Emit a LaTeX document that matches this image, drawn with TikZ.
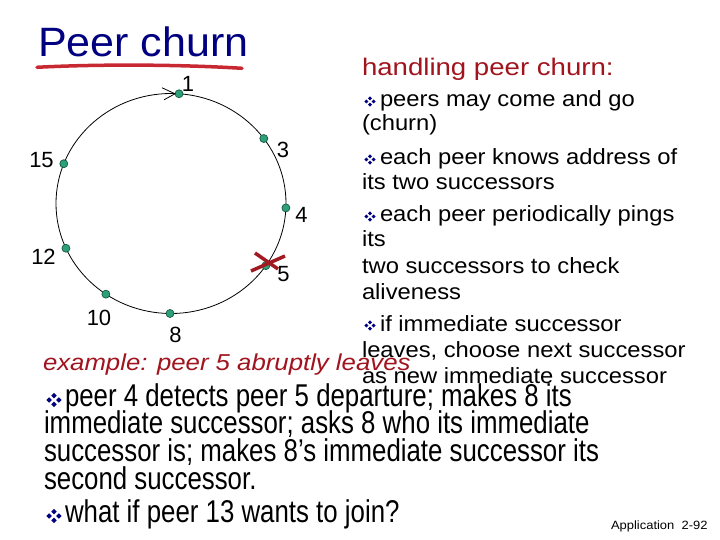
\documentclass[tikz,border=0pt]{standalone}
\usepackage{fontspec}
\setmainfont{Liberation Sans}
\newfontfamily\titlef[FakeStretch=1.05]{Liberation Sans}
\newfontfamily\headf[FakeStretch=1.15]{Liberation Sans}
\newfontfamily\bodyf[FakeStretch=1.08]{Liberation Sans}
\newfontfamily\exf[FakeStretch=1.12]{Liberation Sans}
\newfontfamily\narrowf[FakeStretch=0.82]{Liberation Sans}
\usetikzlibrary{calc}
\definecolor{navy}{RGB}{0,0,128}
\definecolor{dred}{RGB}{160,20,30}
\definecolor{ulred}{RGB}{200,40,50}
\definecolor{xred}{RGB}{160,25,35}
\definecolor{peerfill}{RGB}{46,160,120}
\definecolor{peerdraw}{RGB}{20,90,70}
\begin{document}
\begin{tikzpicture}[x=1pt,y=-1pt,
  txt/.style={anchor=base west,inner sep=0,outer sep=0},
  rt/.style={txt,font=\bodyf\fontsize{22}{26}\selectfont},
  bt/.style={txt,font=\narrowf\fontsize{31.5}{34}\selectfont},
  num/.style={inner sep=0,font=\fontsize{22}{24}\selectfont},
  peer/.style={circle,fill=peerfill,draw=peerdraw,line width=0.7pt,minimum size=8pt,inner sep=0},
  bul/.pic={\foreach \dx/\dy in {3.6/0,-3.6/0,0/3.2,0/-3.2}{\fill[navy] (\dx,\dy) +(-2,0) -- +(0,-2) -- +(2,0) -- +(0,2) -- cycle;}}
]
\useasboundingbox (0,0) rectangle (720,540);
\fill[white] (0,0) rectangle (720,540);

% title
\node[txt,font=\titlef\fontsize{41}{44}\selectfont,text=navy] (title) at (38,57) {Peer churn};
\draw[ulred,line width=3.5pt,line cap=round] (37,67.3) .. controls (100,64) and (180,64.5) .. (242,68.3);

% ring
\coordinate (ctr) at (171,203.5);
\draw[line width=0.8pt] (ctr) ellipse [x radius=115, y radius=110];
\node[peer] (d1)  at ($(ctr)+(-86:115 and 110)$) {};
\node[peer] (d3)  at ($(ctr)+(-36.2:115 and 110)$) {};
\node[peer] (d15) at ($(ctr)+(-158.8:115 and 110)$) {};
\node[peer] (d4)  at ($(ctr)+(2.3:115 and 110)$) {};
\node[peer] (d12) at ($(ctr)+(156:115 and 110)$) {};
\node[peer] (d5)  at ($(ctr)+(34.4:115 and 110)$) {};
\node[peer] (d10) at ($(ctr)+(124.5:115 and 110)$) {};
\node[peer] (d8)  at ($(ctr)+(90.5:115 and 110)$) {};

% arrow chevron at peer 1
\coordinate (tip) at ($(d1.center)+(-4,0)$);
\draw[line width=0.8pt] ($(tip)+(-13,-6)$) -- (tip) -- ($(tip)+(-11,6)$);

% labels
\node[num] (l1)  at (188,83.5) {1};
\node[num] (l3)  at (283,149.5) {3};
\node[num] (l15) at (41.5,160) {15};
\node[num] (l4)  at (301.5,215) {4};
\node[num] (l12) at (43.5,256.5) {12};
\node[num] (l5)  at (283.5,274) {5};
\node[num] (l10) at (99,317.5) {10};
\node[num] (l8)  at (175.5,335) {8};

% red X on peer 5
\draw[xred,line width=3.5pt] (255,253) -- (278,269);
\draw[xred,line width=3.5pt] (251,271) -- (285,256);

% right column
\node[txt,font=\headf\fontsize{24}{28}\selectfont,text=dred] (head) at (362,76) {handling peer churn:};
\pic at (370,101.5) {bul};
\node[rt] (r1) at (380,107) {peers may come and go};
\node[rt] (r2) at (362,131) {(churn)};
\pic at (370,159.5) {bul};
\node[rt] (r3) at (380,165) {each peer knows address of};
\node[rt] (r4) at (362,190) {its two successors};
\pic at (370,216.5) {bul};
\node[rt] (r5) at (380,222) {each peer periodically pings};
\node[rt] (r6) at (362,246) {its};
\node[rt] (r7) at (362,273) {two successors to check};
\node[rt] (r8) at (362,299) {aliveness};
\pic at (370,325.5) {bul};
\node[rt] (r9) at (380,331) {if immediate successor};
\node[rt] (r10) at (362,357) {leaves, choose next successor};
\node[rt] (r11) at (362,383) {as new immediate successor};

% example
\node[txt,font=\exf\itshape\fontsize{23}{26}\selectfont,text=dred] (ex) at (43,370) {example: peer 5 abruptly leaves};

% bottom text
\pic[scale=1.35] at (54,400) {bul};
\node[bt] (b1) at (65,406) {peer 4 detects peer 5 departure; makes 8 its};
\node[bt] (b2) at (44,433) {immediate successor; asks 8 who its immediate};
\node[bt] (b3) at (44,461) {successor is; makes 8’s immediate successor its};
\node[bt] (b4) at (44,489) {second successor.};
\pic[scale=1.35] at (54,516) {bul};
\node[bt] (b5) at (65,522) {what if peer 13 wants to join?};

\node[txt,font=\bodyf\fontsize{12}{14}\selectfont] (app) at (611,529) {Application\ \ 2-92};
\end{tikzpicture}
\end{document}
